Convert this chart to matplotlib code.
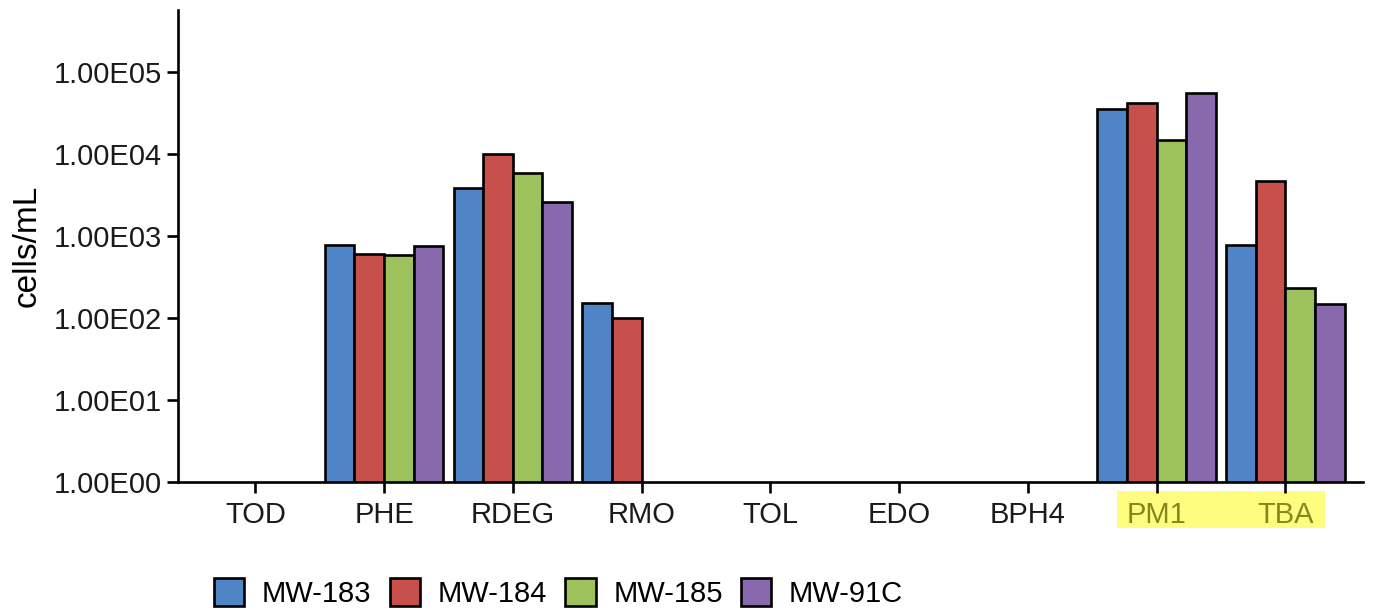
import numpy as np
import matplotlib
matplotlib.use("Agg")
import matplotlib.pyplot as plt
from matplotlib.patches import Rectangle
from matplotlib.ticker import FixedLocator, NullLocator

plt.rcParams['font.family'] = ['Liberation Sans', 'DejaVu Sans']

# Gene targets (x categories)
categories = ["TOD", "PHE", "RDEG", "RMO", "TOL", "EDO", "BPH4", "PM1", "TBA"]
highlighted = ["PM1", "TBA"]

# Abundance per well, cells/mL (nan = not detected)
mw183 = [np.nan, 770, 3900, 154, np.nan, np.nan, np.nan, 35000, 770]
mw184 = [np.nan, 610, 10100, 101, np.nan, np.nan, np.nan, 42000, 4700]
mw185 = [np.nan, 580, 5900, np.nan, np.nan, np.nan, np.nan, 14700, 232]
mw91c = [np.nan, 755, 2580, np.nan, np.nan, np.nan, np.nan, 55000, 148]

series_names = ["MW-183", "MW-184", "MW-185", "MW-91C"]
series_values = [mw183, mw184, mw185, mw91c]
colors = ["#4f85c6", "#c8504c", "#9dc15b", "#8869ad"]

ytick_values = [1, 10, 100, 1000, 10000, 100000]
ytick_labels = ["1.00E00", "1.00E01", "1.00E02", "1.00E03", "1.00E04", "1.00E05"]

fig = plt.figure(figsize=(13.75, 6.12), dpi=100)
ax = fig.add_axes([0.1295, 0.2124, 0.8615, 0.7713])

x = np.arange(len(categories))
n = len(series_names)
w = 0.23
for i, (name, vals, c) in enumerate(zip(series_names, series_values, colors)):
    offs = (i - (n - 1) / 2) * w
    ax.bar(x + offs, vals, width=w, bottom=0, color=c, edgecolor="black",
           linewidth=1.9, label=name)

ax.set_yscale("log")
ax.set_ylim(1, 10 ** 5.756)
ax.set_xlim(-0.6, len(categories) - 0.4)
ax.yaxis.set_major_locator(FixedLocator(ytick_values))
ax.yaxis.set_minor_locator(NullLocator())
ax.set_yticklabels(ytick_labels)
ax.set_xticks(x)
ax.set_xticklabels(categories)

for s in ["top", "right"]:
    ax.spines[s].set_visible(False)
for s in ["left", "bottom"]:
    ax.spines[s].set_linewidth(1.9)
ax.tick_params(axis="both", length=8, width=1.9, labelsize=21,
               colors="black", labelcolor="#1a1a1a")
ax.tick_params(axis="x", pad=6)
ax.set_ylabel("cells/mL", fontsize=24, labelpad=8)

# Highlight band behind the last two category labels
hl_idx = [categories.index(h) for h in highlighted]
trans = ax.get_xaxis_transform()
ax.add_patch(Rectangle((hl_idx[0] - 0.31, -0.0975), (hl_idx[-1] - hl_idx[0]) + 0.62, 0.0775,
                       transform=trans, clip_on=False, facecolor="#fdfd80",
                       edgecolor="none", zorder=0))
for lbl in ax.get_xticklabels():
    if lbl.get_text() in highlighted:
        lbl.set_color("#86861c")

fig.legend(loc="lower left", bbox_to_anchor=(0.147, -0.012), ncol=4,
           frameon=False, fontsize=21, handlelength=1.05, handleheight=1.1,
           handletextpad=0.6, columnspacing=0.62, borderaxespad=0)

fig.savefig("out.png", dpi=100)
